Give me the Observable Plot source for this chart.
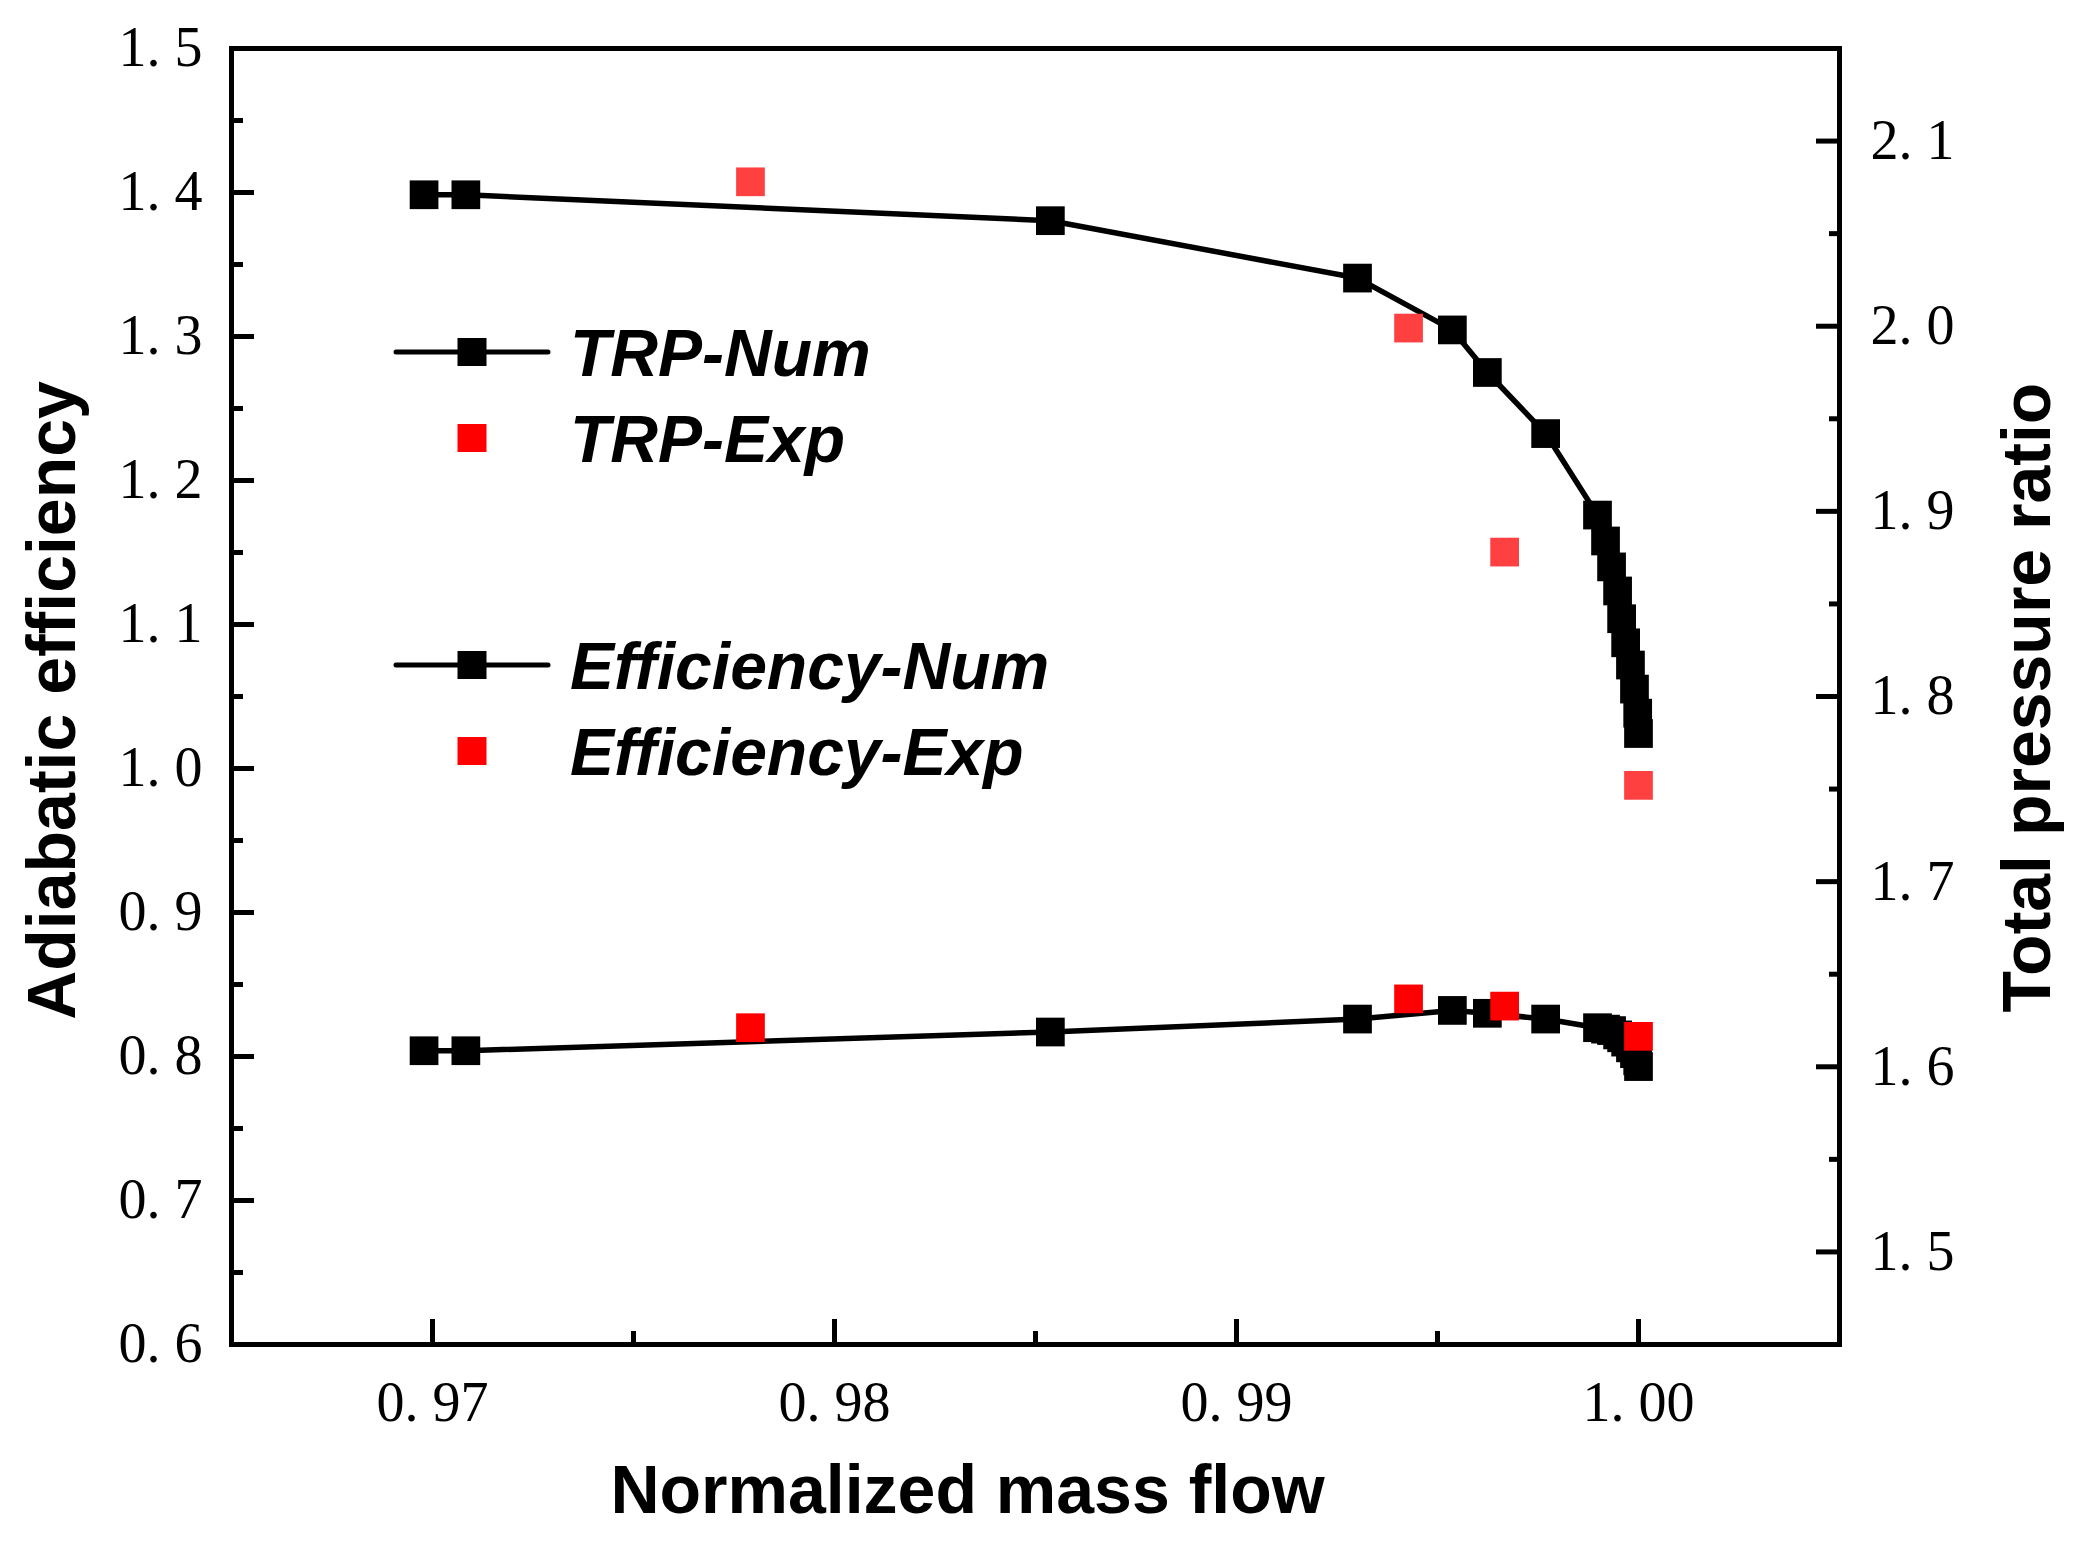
<!DOCTYPE html>
<html>
<head>
<meta charset="utf-8">
<script src="https://cdn.jsdelivr.net/npm/d3@7"></script>
<script src="https://cdn.jsdelivr.net/npm/@observablehq/plot@0.6"></script>
<style>
  body { margin: 0; background: #fff; }
</style>
</head>
<body>
<div id="chart"></div>
<script>
// numerical results (TRP on the right axis, efficiency on the left)
const flowNum = [0.96979, 0.97083, 0.98537, 0.99301, 0.99537, 0.99624, 0.99769, 0.99898, 0.99918, 0.99933, 0.99948, 0.99958, 0.99968, 0.99980, 0.99990, 0.99998, 1.00000];
const trpNum  = [2.071, 2.071, 2.057, 2.026, 1.998, 1.975, 1.942, 1.898, 1.884, 1.870, 1.857, 1.842, 1.829, 1.817, 1.804, 1.791, 1.780];
const effNum  = [0.804, 0.804, 0.817, 0.826, 0.832, 0.830, 0.826, 0.820, 0.819, 0.818, 0.815, 0.813, 0.810, 0.806, 0.802, 0.797, 0.793];

// experiment
const flowExp = [0.97791, 0.99428, 0.99667, 1.00000];
const trpExp  = [2.078, 1.999, 1.878, 1.752];
const effExp  = [0.820, 0.840, 0.835, 0.814];

// ticks
const effTicks = [0.6, 0.7, 0.8, 0.9, 1.0, 1.1, 1.2, 1.3, 1.4, 1.5];
const effMinor = [0.65, 0.75, 0.85, 0.95, 1.05, 1.15, 1.25, 1.35, 1.45];
const trpTicks = [1.5, 1.6, 1.7, 1.8, 1.9, 2.0, 2.1];
const trpMinor = [1.55, 1.65, 1.75, 1.85, 1.95, 2.05];
const flowTicks = [0.97, 0.98, 0.99, 1.00];
const flowMinor = [0.975, 0.985, 0.995];

const effDomain = [0.6, 1.5];
const trpDomain = [1.45, 2.15];
const flowDomain = [0.965, 1.005];

// right axis -> left axis units
const k = (effDomain[1] - effDomain[0]) / (trpDomain[1] - trpDomain[0]);
const toEff = t => effDomain[0] + (t - trpDomain[0]) * k;
const toTrp = e => trpDomain[0] + (e - effDomain[0]) / k;

const numRows = flowNum.map((f, i) => ({flow: f, trp: toEff(trpNum[i]), eff: effNum[i]}));
const expRows = flowExp.map((f, i) => ({flow: f, trp: toEff(trpExp[i]), eff: effExp[i]}));

const fmt1 = d => d.toFixed(1).replace(".", ". ");
const fmt2 = d => d.toFixed(2).replace(".", ". ");

const W = 2082, H = 1547;
const mL = 231, mR = 243, mT = 48, mB = 203;
const serif = "Liberation Serif, Times New Roman, serif";
const sans = "Liberation Sans, Arial, sans-serif";
const tickFont = 56;
const sq = 16.2; // square symbol radius

const plot = Plot.plot({
  width: W,
  height: H,
  marginLeft: mL,
  marginRight: mR,
  marginTop: mT,
  marginBottom: mB,
  style: {fontFamily: serif, background: "#fff", color: "#000"},
  x: {domain: flowDomain},
  y: {domain: effDomain},
  marks: [
    // left axis
    Plot.axisY(effTicks, {anchor: "left", tickSize: -23, tickPadding: 52, strokeWidth: 5, tickFormat: fmt1, fontSize: tickFont, fontFamily: serif, label: null}),
    Plot.axisY(effMinor, {anchor: "left", tickSize: -12, strokeWidth: 5, tickFormat: () => "", label: null}),
    // right axis (total pressure ratio)
    Plot.axisY(trpTicks.map(toEff), {anchor: "right", tickSize: -24, tickPadding: 55, strokeWidth: 5, tickFormat: d => fmt1(toTrp(d)), fontSize: tickFont, fontFamily: serif, label: null}),
    Plot.axisY(trpMinor.map(toEff), {anchor: "right", tickSize: -11, strokeWidth: 5, tickFormat: () => "", label: null}),
    // bottom axis
    Plot.axisX(flowTicks, {anchor: "bottom", tickSize: -25, tickPadding: 62, strokeWidth: 5, tickFormat: fmt2, fontSize: tickFont, fontFamily: serif, label: null}),
    Plot.axisX(flowMinor, {anchor: "bottom", tickSize: -13, strokeWidth: 5, tickFormat: () => "", label: null}),
    Plot.frame({stroke: "#000", strokeWidth: 5}),

    // axis titles
    Plot.text(["Adiabatic efficiency"], {frameAnchor: "left", textAnchor: "middle", dx: -178, dy: 4, rotate: -90, fontSize: 68, fontWeight: "bold", fontFamily: sans, fill: "#000"}),
    Plot.text(["Total pressure ratio"], {frameAnchor: "right", textAnchor: "middle", dx: 189, dy: 1, rotate: -90, fontSize: 68, fontWeight: "bold", fontFamily: sans, fill: "#000"}),
    Plot.text(["Normalized mass flow"], {frameAnchor: "bottom", textAnchor: "middle", dx: -68, dy: 168, fontSize: 68, fontWeight: "bold", fontFamily: sans, fill: "#000"}),

    // numerical curves
    Plot.line(numRows, {x: "flow", y: "trp", stroke: "#000", strokeWidth: 5.5}),
    Plot.line(numRows, {x: "flow", y: "eff", stroke: "#000", strokeWidth: 5.5}),
    Plot.dot(numRows, {x: "flow", y: "trp", symbol: "square", r: sq, fill: "#000"}),
    Plot.dot(numRows, {x: "flow", y: "eff", symbol: "square", r: sq, fill: "#000"}),

    // experiment
    Plot.dot(expRows, {x: "flow", y: "trp", symbol: "square", r: sq, fill: "#ff4040"}),
    Plot.dot(expRows, {x: "flow", y: "eff", symbol: "square", r: sq, fill: "#ff0000"})
  ]
});

document.querySelector("#chart").appendChild(plot);

// legend inside the plot area
const legendNames = ["TRP-Num", "TRP-Exp", "Efficiency-Num", "Efficiency-Exp"];
const legendLine = [true, false, true, false];
const legendColor = ["#000", "#ff0000", "#000", "#ff0000"];
const legendY = [352, 438, 665, 751];

const svg = d3.select(plot);
const lg = svg.append("g").attr("text-anchor", "start");
legendNames.forEach((name, i) => {
  const y = legendY[i];
  if (legendLine[i]) {
    lg.append("line").attr("x1", 396).attr("x2", 548).attr("y1", y).attr("y2", y)
      .attr("stroke", "#000").attr("stroke-width", 5).attr("stroke-linecap", "round");
  }
  lg.append("rect").attr("x", 472 - 14.5).attr("y", y - 14).attr("width", 29).attr("height", 28)
    .attr("fill", legendColor[i]);
  lg.append("text").attr("x", 570).attr("y", y + 24).attr("text-anchor", "start")
    .attr("font-family", sans).attr("font-size", 66).attr("font-weight", "bold").attr("font-style", "italic")
    .attr("fill", "#000").text(name);
});
</script>
</body>
</html>
